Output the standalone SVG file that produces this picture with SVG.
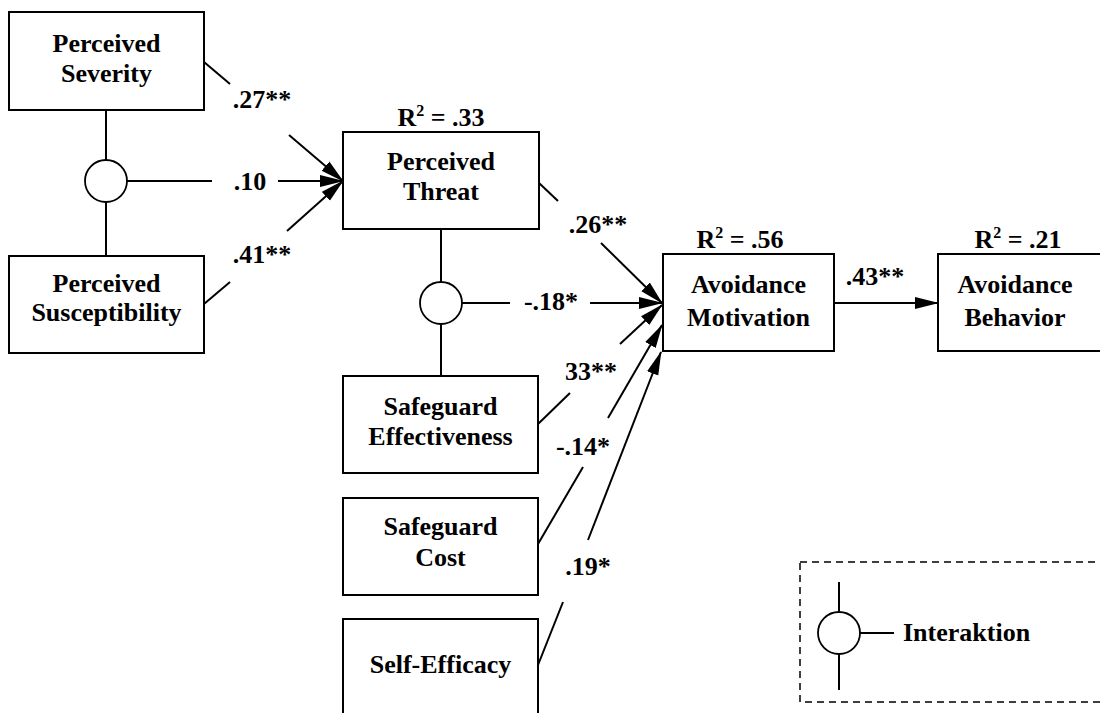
<svg xmlns="http://www.w3.org/2000/svg" width="1100" height="713" viewBox="0 0 1100 713">
<defs>
<style>
.box{fill:#fff;stroke:#000;stroke-width:2}
.t{font-family:'Liberation Serif',serif;font-weight:bold;font-size:26px;fill:#000;text-anchor:middle}
.ln{stroke:#000;stroke-width:2;fill:none}
.ar{stroke:#000;stroke-width:2;fill:none;marker-end:url(#ah)}
.ic{fill:#fff;stroke:#000;stroke-width:1.8}
.sup{font-size:16px}
</style>
<marker id="ah" markerUnits="userSpaceOnUse" markerWidth="24" markerHeight="14" refX="23" refY="6" orient="auto" viewBox="0 0 24 12">
<path d="M0,0 L24,6 L0,12 Z" fill="#000"/>
</marker>
</defs>
<rect width="1100" height="713" fill="#fff"/>

<g id="connectors">
<line class="ln" x1="204" y1="62" x2="230" y2="84"/>
<line class="ar" x1="289" y1="135" x2="343" y2="181"/>
<line class="ln" x1="204" y1="304" x2="230" y2="282"/>
<line class="ar" x1="287" y1="231" x2="343" y2="181"/>
<line class="ln" x1="106" y1="110" x2="106" y2="160"/>
<line class="ln" x1="106" y1="202" x2="106" y2="256"/>
<line class="ln" x1="127" y1="181" x2="212" y2="181"/>
<line class="ar" x1="278" y1="181" x2="343" y2="181"/>
<line class="ln" x1="539" y1="183" x2="558" y2="201"/>
<line class="ar" x1="601" y1="243" x2="662" y2="303"/>
<line class="ln" x1="441" y1="229" x2="441" y2="282"/>
<line class="ln" x1="441" y1="324" x2="441" y2="376"/>
<line class="ln" x1="462" y1="303" x2="510" y2="303"/>
<line class="ar" x1="590" y1="303" x2="662" y2="303"/>
<line class="ln" x1="538" y1="424" x2="570" y2="393"/>
<line class="ar" x1="620" y1="344" x2="662" y2="305"/>
<line class="ln" x1="538" y1="544" x2="583" y2="467"/>
<line class="ar" x1="608" y1="418" x2="662" y2="325"/>
<line class="ln" x1="538" y1="665" x2="563" y2="602"/>
<line class="ar" x1="588" y1="540" x2="661" y2="352"/>
<line class="ar" x1="834" y1="303" x2="938" y2="303"/>
</g>

<g id="edge-labels">
<text class="t" x="262" y="108">.27**</text>
<text class="t" x="250" y="190">.10</text>
<text class="t" x="262" y="263">.41**</text>
<text class="t" x="598" y="233">.26**</text>
<text class="t" x="551" y="310">-.18*</text>
<text class="t" x="591" y="380">33**</text>
<text class="t" x="583" y="455">-.14*</text>
<text class="t" x="588" y="575">.19*</text>
<text class="t" x="875" y="285">.43**</text>
</g>

<g id="int1">
<circle class="ic" cx="106" cy="181" r="21"/>
</g>
<g id="int2">
<circle class="ic" cx="441" cy="303" r="21"/>
</g>

<g id="severity">
<rect class="box" x="9" y="12" width="195" height="98"/>
<text class="t" x="106.5" y="52">Perceived</text>
<text class="t" x="106.5" y="82">Severity</text>
</g>
<g id="susceptibility">
<rect class="box" x="9" y="256" width="195" height="97"/>
<text class="t" x="106.5" y="292">Perceived</text>
<text class="t" x="106.5" y="321">Susceptibility</text>
</g>
<g id="threat">
<rect class="box" x="343" y="132" width="196" height="97"/>
<text class="t" x="441" y="126">R<tspan class="sup" dy="-10">2</tspan><tspan dy="10"> = .33</tspan></text>
<text class="t" x="441" y="170">Perceived</text>
<text class="t" x="441" y="200">Threat</text>
</g>
<g id="motivation">
<rect class="box" x="663" y="254" width="171" height="97"/>
<text class="t" x="740" y="248">R<tspan class="sup" dy="-10">2</tspan><tspan dy="10"> = .56</tspan></text>
<text class="t" x="748.5" y="293">Avoidance</text>
<text class="t" x="748.5" y="326">Motivation</text>
</g>
<g id="behavior">
<rect class="box" x="938" y="254" width="180" height="97"/>
<text class="t" x="1018" y="248">R<tspan class="sup" dy="-10">2</tspan><tspan dy="10"> = .21</tspan></text>
<text class="t" x="1015" y="293">Avoidance</text>
<text class="t" x="1015" y="326">Behavior</text>
</g>
<g id="effectiveness">
<rect class="box" x="343" y="376" width="195" height="97"/>
<text class="t" x="440.5" y="415">Safeguard</text>
<text class="t" x="440.5" y="445">Effectiveness</text>
</g>
<g id="cost">
<rect class="box" x="343" y="498" width="195" height="97"/>
<text class="t" x="440.5" y="535">Safeguard</text>
<text class="t" x="440.5" y="566">Cost</text>
</g>
<g id="selfefficacy">
<rect class="box" x="343" y="619" width="195" height="110"/>
<text class="t" x="440.5" y="673">Self-Efficacy</text>
</g>

<g id="legend">
<rect x="800" y="562" width="320" height="140" fill="none" stroke="#000" stroke-width="1.5" stroke-dasharray="7,5"/>
<line class="ln" x1="839" y1="582" x2="839" y2="612"/>
<line class="ln" x1="839" y1="654" x2="839" y2="690"/>
<line class="ln" x1="860" y1="633" x2="894" y2="633"/>
<circle class="ic" cx="839" cy="633" r="21"/>
<text class="t" x="903" y="641" style="text-anchor:start">Interaktion</text>
</g>
</svg>
